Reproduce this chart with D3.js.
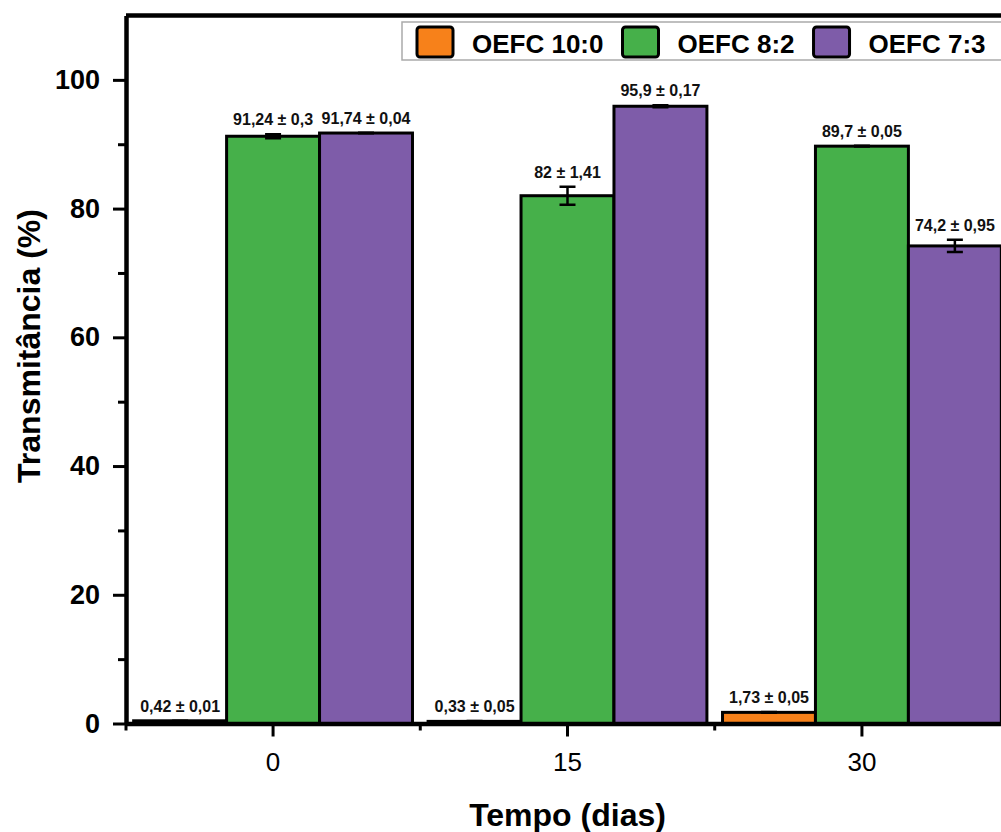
<!DOCTYPE html>
<html>
<head>
<meta charset="utf-8">
<script src="https://cdn.jsdelivr.net/npm/d3@7"></script>
<style>
body { margin: 0; background: #fff; }
svg { display: block; font-family: "Liberation Sans", Arial, sans-serif; }
</style>
</head>
<body>
<svg></svg>
<script>
// data
var days = ['0', '15', '30'];
var seriesNames = ['OEFC 10:0', 'OEFC 8:2', 'OEFC 7:3'];
var seriesColors = ['#f7811a', '#46b04a', '#7e5ca9'];
var oefc100 = [0.42, 0.33, 1.73];
var oefc100Err = [0.01, 0.05, 0.05];
var oefc82 = [91.24, 82, 89.7];
var oefc82Err = [0.3, 1.41, 0.05];
var oefc73 = [91.74, 95.9, 74.2];
var oefc73Err = [0.04, 0.17, 0.95];
var yTicks = [0, 20, 40, 60, 80, 100];
var yMinorTicks = [10, 30, 50, 70, 90];

var values = [oefc100, oefc82, oefc73];
var errors = [oefc100Err, oefc82Err, oefc73Err];

var margin = {top: 15.5, left: 126};
var width = 883;   // right side runs off the picture
var height = 708;

var rows = [];
days.forEach(function(d, i) {
  seriesNames.forEach(function(s, j) {
    rows.push({day: d, s: j, v: values[j][i], e: errors[j][i]});
  });
});

var svg = d3.select('svg')
  .attr('width', 1001)
  .attr('height', 832);

var g = svg.append('g')
  .attr('transform', 'translate(' + margin.left + ',' + margin.top + ')');

var yScale = d3.scaleLinear()
  .domain([0, 110])
  .range([height, 0]);

var xScale = d3.scaleBand()
  .domain(days)
  .range([0, width])
  .paddingInner(0.053)
  .paddingOuter(0.026);

var xSub = d3.scaleBand()
  .domain(d3.range(seriesNames.length))
  .range([0, xScale.bandwidth()]);

// bars
g.selectAll('rect.bar')
  .data(rows)
  .enter()
  .append('rect')
    .attr('class', 'bar')
    .attr('x', d => xScale(d.day) + xSub(d.s))
    .attr('y', d => yScale(d.v))
    .attr('width', xSub.bandwidth())
    .attr('height', d => height - yScale(d.v))
    .style('fill', d => seriesColors[d.s])
    .style('stroke', '#000')
    .style('stroke-width', 3);

// y axis
var yAxis = d3.axisLeft(yScale)
  .tickValues(yTicks)
  .tickSize(13)
  .tickSizeOuter(0)
  .tickPadding(13)
  .tickFormat(d3.format('d'));

var yg = g.append('g').call(yAxis);
yg.select('.domain').style('stroke-width', 4.5);
yg.selectAll('.tick line').style('stroke-width', 3);
yg.selectAll('text')
  .style('font-size', '27px')
  .style('font-weight', 'bold')
  .style('fill', '#000');

g.append('g')
  .call(d3.axisLeft(yScale).tickValues(yMinorTicks).tickSize(8).tickFormat(''))
  .call(a => a.select('.domain').remove())
  .selectAll('line').style('stroke-width', 3);

// x axis
var xAxis = d3.axisBottom(xScale)
  .tickSize(13)
  .tickSizeOuter(0)
  .tickPadding(16);

var xg = g.append('g')
  .attr('transform', 'translate(0,' + height + ')')
  .call(xAxis);
xg.select('.domain').style('stroke-width', 4.5);
xg.selectAll('.tick line').style('stroke-width', 3);
xg.selectAll('text')
  .style('font-size', '26px')
  .style('fill', '#000');

// minor x ticks between groups
var gap = xScale.step() * xScale.paddingInner();
var bounds = days.map(d => xScale(d) - gap / 2).concat([xScale(days[days.length - 1]) + xScale.bandwidth() + gap / 2]);
bounds[0] = 0;
g.selectAll('line.minor-x')
  .data(bounds)
  .enter()
  .append('line')
    .attr('x1', d => d)
    .attr('x2', d => d)
    .attr('y1', height)
    .attr('y2', height + 7)
    .style('stroke', '#000')
    .style('stroke-width', 3);

// frame top + right
g.append('path')
  .attr('d', 'M0,0H' + width + 'V' + height)
  .style('fill', 'none')
  .style('stroke', '#000')
  .style('stroke-width', 4.5);

// error bars
var capW = 16;
var eb = g.selectAll('g.err')
  .data(rows)
  .enter()
  .append('g')
    .attr('transform', d => 'translate(' + (xScale(d.day) + xSub(d.s) + xSub.bandwidth() / 2) + ',0)');
eb.append('path')
  .attr('d', d => 'M0,' + yScale(d.v - d.e) + 'V' + yScale(d.v + d.e) +
    'M' + (-capW / 2) + ',' + yScale(d.v + d.e) + 'H' + (capW / 2) +
    'M' + (-capW / 2) + ',' + yScale(d.v - d.e) + 'H' + (capW / 2))
  .style('fill', 'none')
  .style('stroke', '#000')
  .style('stroke-width', 2.5);

// value labels
var fmt = v => String(v).replace('.', ',');
eb.append('text')
  .attr('y', d => yScale(d.v + d.e) - 9)
  .attr('text-anchor', 'middle')
  .style('font-size', '16px')
  .style('font-weight', 'bold')
  .style('fill', '#111')
  .text(d => fmt(d.v) + ' \u00b1 ' + fmt(d.e));

// axis titles
svg.append('text')
  .attr('x', margin.left + width / 2)
  .attr('y', 826)
  .attr('text-anchor', 'middle')
  .style('font-size', '32px')
  .style('font-weight', 'bold')
  .text('Tempo (dias)');

svg.append('text')
  .attr('transform', 'translate(40,346) rotate(-90)')
  .attr('text-anchor', 'middle')
  .style('font-size', '32px')
  .style('font-weight', 'bold')
  .text('Transmitância (%)');

// legend
var legend = svg.append('g');
legend.append('rect')
  .attr('x', 402)
  .attr('y', 22)
  .attr('width', 640)
  .attr('height', 38)
  .style('fill', '#fff')
  .style('stroke', '#aaa')
  .style('stroke-width', 1.5);

var lx = 417;
seriesNames.forEach(function(name, i) {
  legend.append('rect')
    .attr('x', lx)
    .attr('y', 27)
    .attr('width', 36)
    .attr('height', 30)
    .attr('rx', 3)
    .style('fill', seriesColors[i])
    .style('stroke', '#000')
    .style('stroke-width', 3);
  var t = legend.append('text')
    .attr('x', lx + 55)
    .attr('y', 53)
    .style('font-size', '26px')
    .style('font-weight', 'bold')
    .text(name);
  lx = lx + 55 + t.node().getComputedTextLength() + 19;
});
</script>
</body>
</html>
